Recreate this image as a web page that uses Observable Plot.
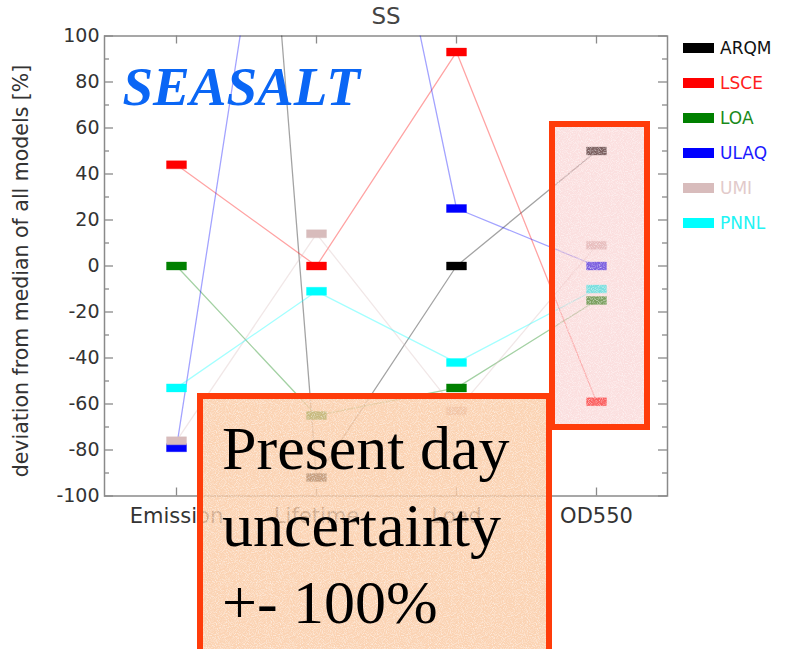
<!DOCTYPE html>
<html>
<head>
<meta charset="utf-8">
<script src="https://cdn.jsdelivr.net/npm/d3@7"></script>
<script src="https://cdn.jsdelivr.net/npm/@observablehq/plot@0.6"></script>
<style>
  body { margin: 0; background: #fff; }
  #wrap { position: relative; width: 785px; height: 649px; overflow: hidden; background: #fff; }
  #wrap > svg { position: absolute; left: 0; top: 0; }
  .legend { position: absolute; left: 683px; top: 0; font-family: "DejaVu Sans", sans-serif; font-size: 17px; }
  .legend .item { position: absolute; left: 0; height: 20px; display: flex; align-items: center; white-space: nowrap; }
  .legend .swatch { width: 31px; height: 10px; margin-right: 6px; }
  .note { position: absolute; box-sizing: border-box; border: 6px solid #ff3c0a;
          background-image: url("data:image/svg+xml;utf8,<svg xmlns='http://www.w3.org/2000/svg' width='64' height='64'><filter id='n'><feTurbulence type='fractalNoise' baseFrequency='1.1' numOctaves='1' seed='3'/><feColorMatrix values='0 0 0 0 1 0 0 0 0 1 0 0 0 0 1 0 0 0 1.6 -0.7'/></filter><rect width='64' height='64' filter='url(%23n)'/></svg>"); }
  .note.day { left: 197px; top: 393px; width: 355px; height: 280px; background-color: rgba(250, 200, 160, 0.8);
              padding: 10.6px 0 0 19px; font-family: "Liberation Serif", "Times New Roman", serif;
              font-size: 62px; line-height: 77px; color: #000; white-space: nowrap; }
  .note.od { left: 549px; top: 121px; width: 101px; height: 309px; background-color: rgba(248, 192, 192, 0.5); }
</style>
</head>
<body>
<div id="wrap"></div>
<script>
// Deviation of each model from the multi-model median, sea salt (SS)
const categories = ["Emission", "Lifetime", "Load", "OD550"];
const models = ["ARQM", "LSCE", "LOA", "ULAQ", "UMI", "PNNL"];
const arqm = [680, -92, 0, 50];
const lsce = [44, 0, 93, -59];
const loa = [0, -65, -53, -15];
const ulaq = [-79, 315, 25, 0];
const umi = [-76, 14, -63, 9];
const pnnl = [-53, -11, -42, -10];
const modelColors = ["#000000", "#ff0000", "#008000", "#0000ff", "#d8bcbc", "#00ffff"];
const legendTextColors = ["#111111", "#ff2020", "#1a8a1a", "#1a1aff", "#e2caca", "#22f4f4"];
const yMajorTicks = [-100, -80, -60, -40, -20, 0, 20, 40, 60, 80, 100];
const yMinorTicks = [-90, -70, -50, -30, -10, 10, 30, 50, 70, 90];
const titleText = "SS";
const yLabel = "deviation from median of all models [%]";
const bannerText = "SEASALT";
const noteLines = ["Present day", "uncertainty", "+- 100%"];

const series = [arqm, lsce, loa, ulaq, umi, pnnl];
const rows = models.flatMap((m, k) =>
  categories.map((c, i) => ({model: m, category: c, value: series[k][i]})));

// Frame geometry
const W = 785, H = 649;
const mLeft = 104, mRight = 118, mTop = 35.5, mBottom = 153.5;
const fw = W - mLeft - mRight, fh = H - mTop - mBottom;
const axisColor = "#8a8a8a";

// Flat bar-shaped marker used for each model value
const barSymbol = { draw(ctx) { ctx.rect(-10, -4, 20, 8); } };

const chart = Plot.plot({
  width: W,
  height: H,
  marginLeft: mLeft,
  marginRight: mRight,
  marginTop: mTop,
  marginBottom: mBottom,
  style: { fontFamily: "DejaVu Sans, sans-serif", color: "#333", background: "transparent", overflow: "visible" },
  x: { type: "point", domain: categories, padding: 0.5, label: null },
  y: { domain: [-100, 100], label: null },
  color: { domain: models, range: modelColors },
  marks: [
    Plot.frame({ stroke: axisColor, strokeWidth: 1.5 }),
    // inward ticks on all four sides
    Plot.tickY(yMajorTicks, { y: d => d, stroke: axisColor, strokeWidth: 1.3, insetRight: fw - 9 }),
    Plot.tickY(yMinorTicks, { y: d => d, stroke: axisColor, strokeWidth: 1.3, insetRight: fw - 5 }),
    Plot.tickY(yMajorTicks, { y: d => d, stroke: axisColor, strokeWidth: 1.3, insetLeft: fw - 9 }),
    Plot.tickY(yMinorTicks, { y: d => d, stroke: axisColor, strokeWidth: 1.3, insetLeft: fw - 5 }),
    Plot.tickX(categories, { x: d => d, stroke: axisColor, strokeWidth: 1.3, insetBottom: fh - 8 }),
    Plot.tickX(categories, { x: d => d, stroke: axisColor, strokeWidth: 1.3, insetTop: fh - 8 }),
    Plot.axisY({ ticks: yMajorTicks, tickSize: 0, tickPadding: 5, fontSize: 19, fill: "#333",
                 tickFormat: d => String(d), label: null }),
    Plot.axisX({ tickSize: 0, tickPadding: 12, fontSize: 21, fill: "#333", label: null }),
    // connecting lines, faint
    Plot.line(rows, { x: "category", y: "value", z: "model", stroke: "model",
                      strokeOpacity: 0.36, strokeWidth: 1.3, clip: true }),
    // value markers
    Plot.dot(rows, { x: "category", y: "value", fill: "model", stroke: "model",
                     strokeOpacity: 0.35, strokeWidth: 1, symbol: barSymbol, clip: true }),
    Plot.text([titleText], { frameAnchor: "top", lineAnchor: "bottom", dy: -12,
                             fontSize: 23, fill: "#444" }),
    Plot.text([yLabel], { frameAnchor: "left", textAnchor: "middle", rotate: -90, dx: -83, dy: 5,
                          fontSize: 20.5, fill: "#333" }),
    Plot.text([bannerText], { frameAnchor: "top-left", textAnchor: "start", lineAnchor: "bottom",
                              dx: 18, dy: 68.5, fontFamily: "Liberation Serif, serif",
                              fontStyle: "italic", fontWeight: "bold", fontSize: 55, fill: "#0a66f5" })
  ]
});

const wrap = document.getElementById("wrap");
wrap.appendChild(chart);

// Legend: swatch + model name
const legend = document.createElement("div");
legend.className = "legend";
models.forEach((m, k) => {
  const item = document.createElement("div");
  item.className = "item";
  item.style.top = (38.3 + 35 * k) + "px";
  const sw = document.createElement("div");
  sw.className = "swatch";
  sw.style.background = modelColors[k];
  const label = document.createElement("span");
  label.textContent = m;
  label.style.color = legendTextColors[k];
  item.appendChild(sw);
  item.appendChild(label);
  legend.appendChild(item);
});
wrap.appendChild(legend);

// Highlight boxes
const od = document.createElement("div");
od.className = "note od";
wrap.appendChild(od);

const day = document.createElement("div");
day.className = "note day";
day.innerHTML = noteLines.join("<br>");
wrap.appendChild(day);
</script>
</body>
</html>
